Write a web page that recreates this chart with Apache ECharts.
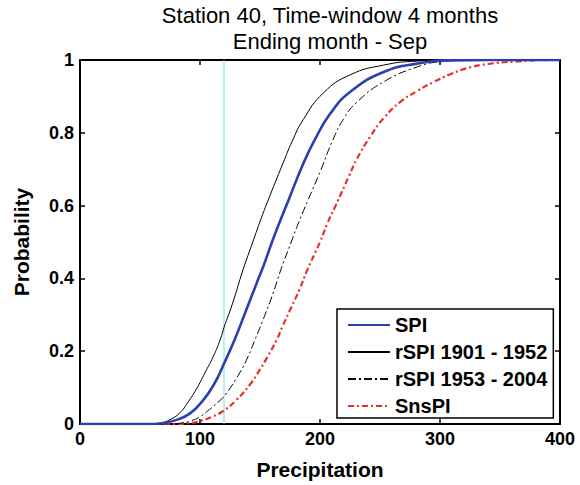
<!DOCTYPE html>
<html>
<head>
<meta charset="utf-8">
<script src="https://cdn.jsdelivr.net/npm/echarts@6/dist/echarts.min.js"></script>
<style>html,body{margin:0;padding:0;background:#fff}#c{width:580px;height:485px}</style>
</head>
<body>
<div id="c"></div>
<script>
var titleLines = ['Station 40, Time-window 4 months', 'Ending month - Sep'];
var xName = 'Precipitation';
var yName = 'Probability';
var seriesNames = ['SPI', 'rSPI 1901 - 1952', 'rSPI 1953 - 2004', 'SnsPI'];
var markerX = 120;

var spiData = [[0,0],[60,0],[70,0.003],[83,0.014],[92,0.03],[100,0.055],[111,0.105],[121,0.173],[129,0.233],[137,0.3],[147,0.385],[153,0.435],[160,0.5],[167,0.56],[174,0.617],[186,0.715],[196,0.783],[208,0.85],[225,0.912],[253,0.967],[281,0.99],[308,0.999],[340,1],[400,1]];
var rspi1Data = [[0,0],[55,0],[67,0.003],[75,0.012],[83,0.03],[90,0.06],[97,0.096],[104,0.14],[111,0.185],[117,0.233],[120,0.265],[127,0.33],[136,0.425],[144,0.5],[151,0.565],[158,0.625],[169,0.715],[177,0.778],[186,0.836],[203,0.91],[225,0.959],[253,0.986],[281,0.997],[310,1],[400,1]];
var rspi2Data = [[0,0],[75,0],[85,0.003],[92,0.008],[100,0.02],[108,0.04],[115,0.06],[121,0.08],[133,0.14],[140,0.185],[146,0.233],[153,0.29],[161,0.36],[167,0.42],[176,0.5],[183,0.56],[190,0.615],[201,0.7],[210,0.775],[220,0.84],[231,0.885],[253,0.94],[281,0.981],[300,0.995],[330,1],[400,1]];
var snspiData = [[0,0],[80,0],[90,0.002],[100,0.008],[110,0.02],[119,0.035],[130,0.065],[142,0.11],[150,0.15],[156,0.183],[164,0.232],[169,0.27],[176,0.32],[183,0.37],[189,0.42],[200,0.5],[206,0.55],[213,0.6],[224,0.68],[231,0.73],[242,0.79],[253,0.84],[267,0.885],[281,0.915],[295,0.94],[308,0.96],[322,0.977],[340,0.989],[364,0.996],[392,1],[400,1]];

var FONT = 'Liberation Sans, Arial, Helvetica, sans-serif';
var chart = echarts.init(document.getElementById('c'), null, {renderer: 'svg'});

function axisBase(extra) {
  var a = {
    axisLine: {show: true, onZero: false, lineStyle: {color: '#000', width: 2}},
    axisTick: {show: true, inside: true, length: 5, lineStyle: {color: '#000', width: 1.5}},
    splitLine: {show: false}
  };
  for (var k in extra) a[k] = extra[k];
  return a;
}

var option = {
  animation: false,
  backgroundColor: '#fff',
  title: {
    text: titleLines.join('\n'),
    left: 330, top: 2, textAlign: 'center', padding: 0,
    textStyle: {fontFamily: FONT, fontSize: 22, fontWeight: 'normal', color: '#000', lineHeight: 26}
  },
  grid: {left: 80, right: 20, top: 60, bottom: 60, containLabel: false},
  xAxis: [
    axisBase({type: 'value', position: 'bottom', min: 0, max: 400, interval: 100,
      name: xName, nameLocation: 'middle', nameGap: 35,
      nameTextStyle: {fontFamily: FONT, fontSize: 21, fontWeight: 'bold', color: '#000'},
      axisLabel: {show: true, margin: 6, fontFamily: FONT, fontSize: 18, fontWeight: 'bold', color: '#000'}}),
    axisBase({type: 'value', position: 'top', min: 0, max: 400, interval: 100, axisLabel: {show: false}})
  ],
  yAxis: [
    axisBase({type: 'value', position: 'left', min: 0, max: 1, interval: 0.2,
      name: yName, nameLocation: 'middle', nameGap: 48,
      nameTextStyle: {fontFamily: FONT, fontSize: 21, fontWeight: 'bold', color: '#000'},
      axisLabel: {show: true, margin: 6, fontFamily: FONT, fontSize: 18, fontWeight: 'bold', color: '#000'}}),
    axisBase({type: 'value', position: 'right', min: 0, max: 1, interval: 0.2, axisLabel: {show: false}})
  ],
  legend: {
    data: seriesNames,
    orient: 'vertical',
    left: 337, top: 309,
    padding: [6, 6, 2, 10],
    itemGap: 7,
    itemWidth: 42,
    itemHeight: 14,
    itemStyle: {opacity: 0},
    backgroundColor: '#fff',
    borderColor: '#000',
    borderWidth: 1.5,
    borderRadius: 0,
    textStyle: {fontFamily: FONT, fontSize: 20, fontWeight: 'bold', color: '#000', lineHeight: 20}
  },
  series: [
    {name: 'marker', type: 'line', data: [[markerX, 0], [markerX, 1]], symbol: 'none', silent: true,
      lineStyle: {color: '#7fdcdc', width: 1}, z: 1},
    {name: seriesNames[3], type: 'line', data: snspiData, symbol: 'none', smooth: 0.5,
      lineStyle: {color: '#e8302a', width: 2.2, type: [6, 3, 2, 3]}, itemStyle: {color: '#e8302a'}, z: 3},
    {name: seriesNames[2], type: 'line', data: rspi2Data, symbol: 'none', smooth: 0.5,
      lineStyle: {color: '#000', width: 1, type: [8, 3, 2, 3]}, itemStyle: {color: '#000'}, z: 3},
    {name: seriesNames[1], type: 'line', data: rspi1Data, symbol: 'none', smooth: 0.5,
      lineStyle: {color: '#000', width: 1}, itemStyle: {color: '#000'}, z: 3},
    {name: seriesNames[0], type: 'line', data: spiData, symbol: 'none', smooth: 0.5,
      lineStyle: {color: '#2b3fae', width: 2.6}, itemStyle: {color: '#2b3fae'}, z: 4}
  ]
};
chart.setOption(option);
</script>
</body>
</html>
